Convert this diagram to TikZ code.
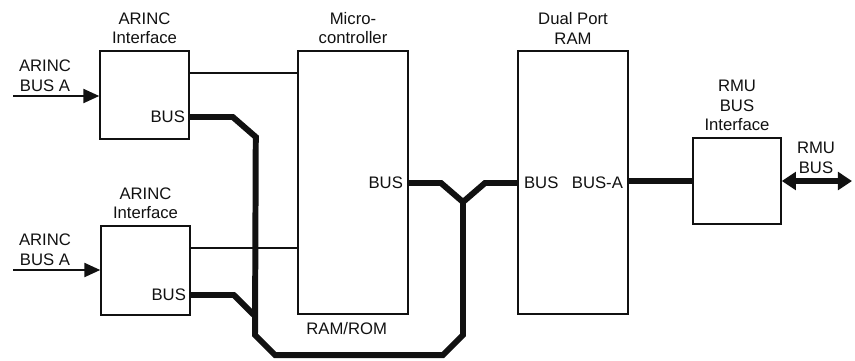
\documentclass[tikz,border=0pt]{standalone}
\usepackage{fontspec}
\setmainfont{Liberation Sans}
\usetikzlibrary{arrows.meta,calc,positioning}
\definecolor{inkCol}{HTML}{111111}
\tikzset{
  blk/.style={draw=inkCol, line width=0.9pt, fill=white, inner sep=0pt},
  lbl/.style={font=\fontsize{9.5}{11.3}\selectfont, align=center, inner sep=1pt, text=inkCol},
  thin/.style={draw=inkCol, line width=0.75pt},
  inarr/.style={draw=inkCol, line width=1pt, -{Triangle[length=9pt,width=8pt]}},
  bus/.style={draw=inkCol, line width=3.4pt, line join=miter, line cap=butt},
  busarr/.style={draw=inkCol, line width=3.4pt, {Triangle[length=8pt,width=10pt]}-{Triangle[length=8pt,width=10pt]}},
}
\begin{document}
\begin{tikzpicture}[x=0.02cm, y=-0.02cm]
  \useasboundingbox (0,0) rectangle (855,360);
  % blocks
  \node[blk, minimum width=1.78cm, minimum height=1.76cm] (arinA) at (144.5,95) {};
  \node[blk, minimum width=1.78cm, minimum height=1.78cm] (arinB) at (145.5,270.5) {};
  \node[blk, minimum width=2.20cm, minimum height=5.26cm] (mcu)   at (353,182.5) {};
  \node[blk, minimum width=2.20cm, minimum height=5.26cm] (dpram) at (573,182.5) {};
  \node[blk, minimum width=1.76cm, minimum height=1.72cm] (rmu)   at (737,181) {};

  % titles
  \node[lbl, above=0.08cm of arinA] (tA)  {ARINC\\Interface};
  \node[lbl, above=0.08cm of arinB] (tB)  {ARINC\\Interface};
  \node[lbl, above=0.08cm of mcu]   (tM)  {Micro-\\controller};
  \node[lbl, above=0.08cm of dpram] (tD)  {Dual Port\\RAM};
  \node[lbl, above=0.08cm of rmu]   (tR)  {RMU\\BUS\\Interface};
  \node[lbl, anchor=north west] (ramrom) at ([xshift=4pt,yshift=-3pt]mcu.south west) {RAM/ROM};

  % port texts
  \node[lbl, anchor=east] (busA)  at (187,117) {BUS};
  \node[lbl, anchor=east] (busB)  at (188,295) {BUS};
  \node[lbl, anchor=east] (busM)  at (405,183) {BUS};
  \node[lbl, anchor=west] (busD)  at (522,183) {BUS};
  \node[lbl, anchor=east] (busDA) at (625,183) {BUS-A};

  % inputs
  \coordinate (inA) at (13,96);
  \coordinate (inB) at (13,270);
  \draw[inarr] (inA) -- (arinA.west|-inA);
  \draw[inarr] (inB) -- (arinB.west|-inB);
  \node[lbl, anchor=south] (lA) at (45,94) {ARINC\\BUS A};
  \node[lbl, anchor=south] (lB) at (45,268) {ARINC\\BUS A};

  % control lines
  \draw[thin] (arinA.east|-0,73) -- (mcu.west|-0,73);
  \draw[thin] (arinB.east|-0,248) -- (mcu.west|-0,248);

  % data bus
  \coordinate (fork) at (463,202);
  \draw[bus] (arinA.east|-busA) -- ++(43,0) -- ++(23,20) -- (255,335) -- (275,355)
             -- (443,355) -- (463,335) -- (fork);
  \draw[bus] (arinB.east|-busB) -- ++(43,0) -- (255,316);
  \draw[bus] (mcu.east|-busM) -- (441,183) -- (fork) -- (485,183) -- (dpram.west|-busD);
  \draw[bus] (dpram.east|-rmu.west) -- (rmu.west);

  % RMU bus
  \coordinate (rmuOut) at (852,181);
  \draw[busarr] (rmu.east) -- (rmuOut);
  \node[lbl, anchor=south] (lR) at (816,176) {RMU\\BUS};
\end{tikzpicture}
\end{document}
